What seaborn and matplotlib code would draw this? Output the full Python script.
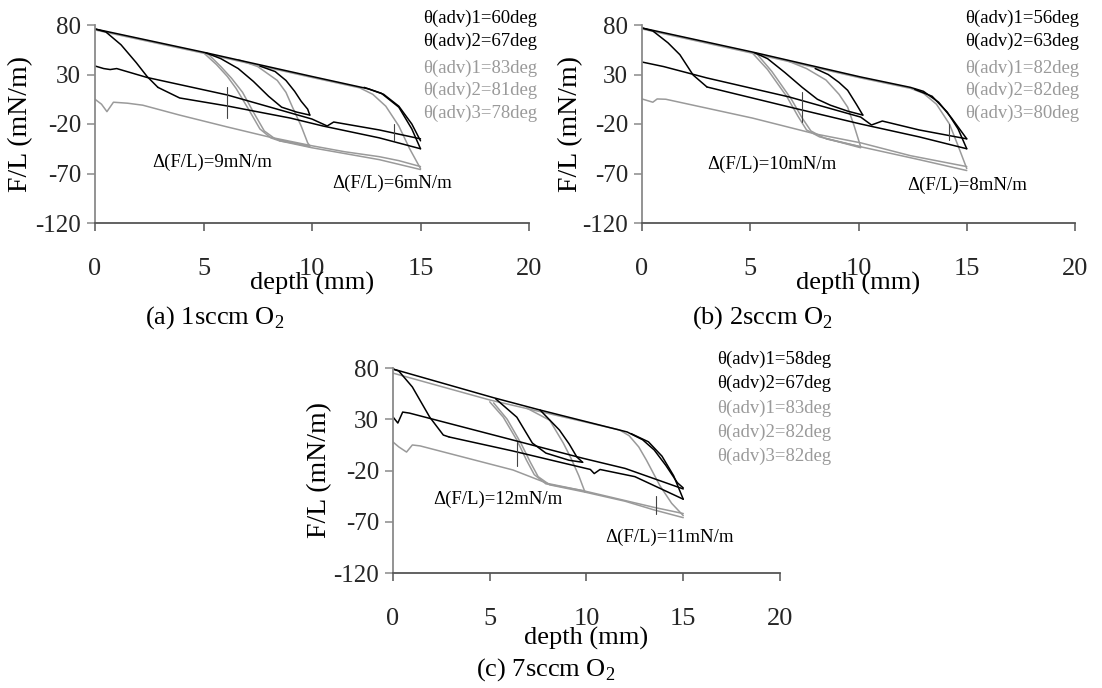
import matplotlib
matplotlib.use("Agg")
import matplotlib.pyplot as plt
import pandas as pd
import seaborn as sns

# ---------------- data (depth in mm, F/L in mN/m) ----------------
X_TICKS = [0, 5, 10, 15, 20]
Y_TICKS = [-120, -70, -20, 30, 80]

# panel (a) 1 sccm O2
a_blk_top = [(0, 76), (5, 52.5), (10, 28), (12.6, 15.5), (13.3, 10), (14, -2), (14.6, -20), (15, -37)]
a_blk_top2 = [(12.4, 17), (13.2, 11), (14, -3), (14.6, -25), (15, -45)]
a_blk_drop = [(0, 76), (0.5, 73), (1.2, 60), (1.9, 42), (2.4, 28), (2.9, 17)]
a_blk_low1 = [(0, 38.6), (0.4, 36), (0.7, 35), (1, 36), (2.4, 27), (6.1, 9.3), (10, -15), (10.5, -20),
              (10.7, -22), (11, -18), (13.1, -26), (15, -35)]
a_blk_low2 = [(2.9, 17), (3.9, 6.3), (6.1, -1.8), (9, -14), (10.5, -22), (13.1, -34), (15, -45)]
a_blk_dn1 = [(5.1, 52), (5.8, 46), (6.6, 36), (7.3, 23), (8, 8), (8.6, -3), (9.3, -8), (9.9, -11)]
a_blk_dn2 = [(7.6, 38.5), (8.3, 33), (8.8, 24), (9.2, 13), (9.5, 3), (9.8, -5), (9.9, -11)]
a_gry_top = [(0, 75), (5, 51.5), (10, 27), (12.2, 16.5), (12.8, 10), (13.4, -2), (14, -22), (14.5, -45), (15, -65)]
a_gry_low1 = [(0, 5), (0.3, 0), (0.55, -7.5), (0.85, 2), (1.5, 1), (2.2, -1), (3.9, -11), (6.1, -23), (8, -33),
              (10, -42), (11.5, -48), (13.1, -53), (14, -57), (15, -63)]
a_gry_low2 = [(8.5, -37), (10, -44), (13.1, -56), (15, -66)]
a_gry_dn1 = [(5, 52), (5.6, 40), (6.1, 28), (6.5, 16), (7.1, -6), (7.6, -25), (8.1, -34), (8.5, -37), (9.9, -42)]
a_gry_dn2 = [(5.2, 51), (5.8, 38), (6.3, 26), (6.8, 12), (7.3, -8), (7.8, -27), (8.3, -35), (9.9, -43)]
a_gry_dn3 = [(6.6, 45), (7.5, 38), (8.4, 24), (8.8, 12), (9.1, -3), (9.5, -22), (9.8, -39), (9.9, -42)]
a_mark1 = [(6.1, 17), (6.1, -14)]
a_mark2 = [(13.8, -20), (13.8, -36)]
a_legend = ["θ(adv)1=60deg", "θ(adv)2=67deg", "θ(adv)1=83deg", "θ(adv)2=81deg", "θ(adv)3=78deg"]
a_delta = [("Δ(F/L)=9mN/m", 5.4, -59), ("Δ(F/L)=6mN/m", 13.7, -80)]

# panel (b) 2 sccm O2
b_blk_top = [(0, 77), (5.1, 52.7), (10.1, 27.5), (12.4, 17), (13, 13), (13.7, 2), (14.3, -14), (15, -35)]
b_blk_top2 = [(12.6, 15), (13.4, 8), (14.1, -8), (14.6, -25), (15, -45)]
b_blk_drop = [(0, 77), (0.5, 74), (1.2, 62), (1.75, 50), (2.36, 29.5), (3, 17.4)]
b_blk_low1 = [(0, 42.6), (1, 38), (3, 26.5), (6.8, 7.3), (10.1, -13), (10.6, -21), (11.1, -17), (12.8, -26), (15, -35)]
b_blk_low2 = [(3, 17.4), (6.8, -2.8), (10.1, -20), (12.8, -33), (15, -45)]
b_blk_dn1 = [(5.2, 52), (5.8, 46), (6.6, 32), (7.4, 17), (8.1, 5), (8.7, -1), (9.5, -7), (10.2, -11)]
b_blk_dn2 = [(8, 36), (8.6, 30), (9.1, 22), (9.5, 14), (9.9, 0), (10.2, -11)]
b_gry_top = [(0, 76), (5.1, 51.5), (10.1, 26.5), (12.4, 16), (13, 11), (13.6, 0), (14.2, -20), (14.6, -42), (15, -65)]
b_gry_low1 = [(0, 5.3), (0.5, 2), (0.7, 5.3), (1.1, 5), (5.1, -14), (8, -30), (10.1, -39), (12.4, -52), (15, -63)]
b_gry_low2 = [(8.5, -35), (10.1, -43), (12.8, -56), (15, -67)]
b_gry_dn1 = [(5.1, 51.7), (5.8, 35), (6.7, 7.3), (7.2, -12), (7.6, -26), (8.2, -33), (10.1, -43)]
b_gry_dn2 = [(5.3, 51), (6, 33), (6.9, 5), (7.4, -14), (7.8, -27), (8.4, -34), (10.1, -44)]
b_gry_dn3 = [(6.7, 44), (7.6, 36), (8.5, 24.4), (9.1, 10), (9.5, -3), (9.8, -22), (10.1, -43)]
b_mark1 = [(7.4, 12), (7.4, -18)]
b_mark2 = [(14.2, -20), (14.2, -36)]
b_legend = ["θ(adv)1=56deg", "θ(adv)2=63deg", "θ(adv)1=82deg", "θ(adv)2=82deg", "θ(adv)3=80deg"]
b_delta = [("Δ(F/L)=10mN/m", 6.0, -61), ("Δ(F/L)=8mN/m", 15.0, -82)]

# panel (c) 7 sccm O2
c_blk_top = [(0, 79), (5.2, 51), (7.6, 39), (12.1, 17.6), (12.9, 10), (13.5, 0), (14.1, -15), (14.7, -32), (15, -37)]
c_blk_top2 = [(12.3, 16), (13.2, 8), (13.9, -6), (14.5, -25), (15, -48)]
c_blk_drop = [(0, 79), (0.3, 77), (1, 61.5), (1.9, 32), (2.6, 14.6), (2.9, 12.7)]
c_blk_low1 = [(0, 32.2), (0.25, 26.3), (0.5, 37), (0.85, 36), (6.2, 9.7), (9.8, -8), (12, -18), (15, -38)]
c_blk_low2 = [(2.9, 12.7), (6.2, -1), (10.2, -19), (10.4, -23), (10.7, -19), (12.5, -26), (15, -48)]
c_blk_dn1 = [(5.3, 50), (6.4, 32), (7.2, 6.8), (7.9, -3), (9.1, -10), (9.8, -12)]
c_blk_dn2 = [(7.6, 39), (8.6, 19.5), (9.1, 6), (9.5, -6.8), (9.8, -12)]
c_gry_top = [(0, 75), (5, 48.8), (11.7, 19.6), (12.2, 14), (12.7, 3), (13.1, -10), (13.8, -35), (14.4, -52), (15, -64)]
c_gry_low1 = [(0, 7.8), (0.3, 3), (0.7, -2), (1, 4.9), (1.4, 4), (6.2, -19.5), (8, -32.7), (9.9, -40),
              (13.5, -56), (15, -62)]
c_gry_low2 = [(9.9, -41), (12, -50), (13.5, -58.5), (15, -66)]
c_gry_dn1 = [(5, 47), (5.7, 32), (6.4, 9.7), (6.9, -10), (7.3, -24), (7.9, -33), (9.9, -40)]
c_gry_dn2 = [(5.2, 46), (5.9, 30), (6.6, 7), (7.1, -12), (7.5, -26), (8.1, -34), (9.9, -41)]
c_gry_dn3 = [(6.9, 41), (8.1, 29), (8.8, 6.8), (9.2, -8), (9.6, -25), (9.9, -40)]
c_mark1 = [(6.4, 8), (6.4, -16)]
c_mark2 = [(13.6, -45), (13.6, -62)]
c_legend = ["θ(adv)1=58deg", "θ(adv)2=67deg", "θ(adv)1=83deg", "θ(adv)2=82deg", "θ(adv)3=82deg"]
c_delta = [("Δ(F/L)=12mN/m", 5.4, -48), ("Δ(F/L)=11mN/m", 14.3, -85)]

CAPTIONS = ["(a) 1sccm O$_\\mathrm{2}$", "(b) 2sccm O$_\\mathrm{2}$", "(c) 7sccm O$_\\mathrm{2}$"]

# ---------------- styling ----------------
sns.set_theme(style="white")
plt.rcParams["font.family"] = ["Liberation Serif", "DejaVu Serif"]
plt.rcParams["mathtext.fontset"] = "custom"
plt.rcParams["mathtext.rm"] = "Liberation Serif"

BLACK = "#000000"
GRAY = "#9a9a9a"
MARK = "#444444"

W, H = 1102, 688
fig = plt.figure(figsize=(W / 100, H / 100), dpi=100)
fig.patch.set_facecolor("white")


def px_axes(l, t, r, b):
    return fig.add_axes([l / W, 1 - b / H, (r - l) / W, (b - t) / H])


panels = [
    dict(rect=(95, 25, 529, 223),
         black=[a_blk_top, a_blk_top2, a_blk_drop, a_blk_low1, a_blk_low2, a_blk_dn1, a_blk_dn2],
         gray=[a_gry_top, a_gry_low1, a_gry_low2, a_gry_dn1, a_gry_dn2, a_gry_dn3],
         marks=[a_mark1, a_mark2], legend=a_legend, delta=a_delta,
         leg_x=423, leg_y=[18, 41, 68, 90, 113], ylab_x=-0.143, xlab_y=-0.245,
         cap=(215, 318)),
    dict(rect=(642, 25, 1075, 223),
         black=[b_blk_top, b_blk_top2, b_blk_drop, b_blk_low1, b_blk_low2, b_blk_dn1, b_blk_dn2],
         gray=[b_gry_top, b_gry_low1, b_gry_low2, b_gry_dn1, b_gry_dn2, b_gry_dn3],
         marks=[b_mark1, b_mark2], legend=b_legend, delta=b_delta,
         leg_x=965, leg_y=[18, 41, 68, 90, 113], ylab_x=-0.136, xlab_y=-0.245,
         cap=(762, 318)),
    dict(rect=(393, 368, 780, 573),
         black=[c_blk_top, c_blk_top2, c_blk_drop, c_blk_low1, c_blk_low2, c_blk_dn1, c_blk_dn2],
         gray=[c_gry_top, c_gry_low1, c_gry_low2, c_gry_dn1, c_gry_dn2, c_gry_dn3],
         marks=[c_mark1, c_mark2], legend=c_legend, delta=c_delta,
         leg_x=717, leg_y=[359, 383, 408, 432, 456], ylab_x=-0.158, xlab_y=-0.265,
         cap=(546, 670)),
]

for i, p in enumerate(panels):
    ax = px_axes(*p["rect"])
    rows = []
    palette = {}
    widths = {}
    for group, curves, col, lw in (("k", p["black"], BLACK, 1.1),
                                   ("g", p["gray"], GRAY, 1.1),
                                   ("m", p["marks"], MARK, 0.8)):
        for j, pts in enumerate(curves):
            name = f"{group}{j}"
            palette[name] = col
            widths[name] = lw
            for x, y in pts:
                rows.append({"depth": x, "FL": y, "curve": name})
    df = pd.DataFrame(rows)
    # gray first, then black on top
    order = [n for n in palette if n.startswith("g")] + [n for n in palette if n.startswith("k")] + \
            [n for n in palette if n.startswith("m")]
    for name in order:
        sub = df[df["curve"] == name]
        sns.lineplot(data=sub, x="depth", y="FL", sort=False, estimator=None,
                     color=palette[name], linewidth=widths[name], ax=ax, legend=False)

    ax.set_xlim(0, 20)
    ax.set_ylim(-120, 80)
    ax.set_xticks(X_TICKS)
    ax.set_yticks(Y_TICKS)
    ax.set_xticklabels([str(t) for t in X_TICKS])
    ax.set_yticklabels([str(t) for t in Y_TICKS])
    ax.set_facecolor("white")
    for s in ("top", "right"):
        ax.spines[s].set_visible(False)
    ax.spines["left"].set_color("#8a8a8a")
    ax.spines["bottom"].set_color("#555555")
    ax.spines["left"].set_linewidth(1.3)
    ax.spines["bottom"].set_linewidth(1.3)
    ax.tick_params(axis="x", direction="out", length=6, width=1.1, color="#555555",
                   labelsize=19, pad=19, bottom=True)
    ax.tick_params(axis="y", direction="out", length=6, width=1.1, color="#8a8a8a",
                   labelsize=18, pad=4, left=True)
    ax.grid(False)

    ax.set_xlabel("depth (mm)", fontsize=19, color="black")
    ax.xaxis.set_label_coords(0.5, p["xlab_y"])
    ax.set_ylabel("F/L (mN/m)", fontsize=20, color="black")
    ax.yaxis.set_label_coords(p["ylab_x"], 0.5)

    for txt, x, y in p["delta"]:
        ax.text(x, y, txt, fontsize=13.5, ha="center", va="center", color="black")

    for k, (txt, yy) in enumerate(zip(p["legend"], p["leg_y"])):
        fig.text(p["leg_x"] / W, 1 - yy / H, txt, fontsize=13.5, ha="left", va="center",
                 color=BLACK if k < 2 else GRAY)

    cx, cy = p["cap"]
    fig.text(cx / W, 1 - cy / H, CAPTIONS[i], fontsize=19, ha="center", va="center", color="black")

fig.savefig("out.png", dpi=100, facecolor="white")
